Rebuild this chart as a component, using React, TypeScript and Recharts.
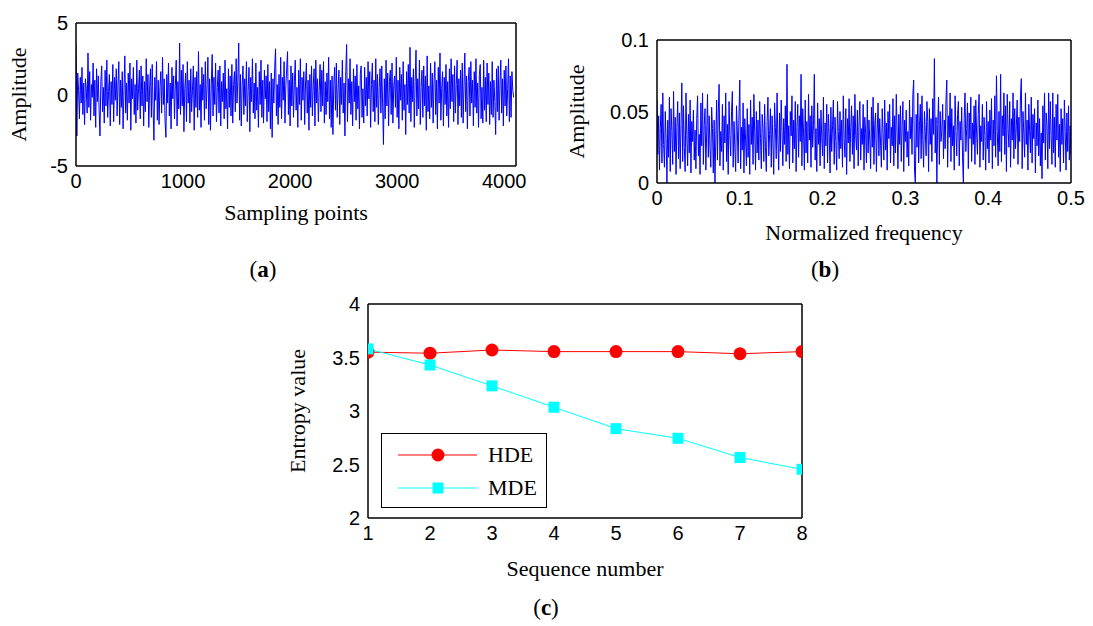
import React from 'react';
import { LineChart, Line, XAxis, YAxis, Label, Legend } from 'recharts';

const SERIF = '"Liberation Serif", "Times New Roman", serif';
const SANS = '"Liberation Sans", Arial, sans-serif';

// (a) time-domain signal, one reading every 8 samples
const signalAmplitude = [
  3.5, -2.9, 1.5, 0.3, -1.7, 1.2, -0.6, 1.9, -1.4, 0.8, -2.1, 1.1, 0.4, -1.3, 2.9, -0.9,
  1.6, -1.8, 0.7, -0.2, 2.2, -1.5, 1.0, -2.3, 1.8, -0.5, 1.3, -1.1, -2.9, 0.9, 2.0, -1.2,
  0.5, -2.0, 1.7, -0.8, 2.4, -1.6, 0.2, 1.4, -2.2, 0.9, -0.7, 2.1, -1.9, 1.2, -0.4, 1.8,
  -1.5, 0.6, 2.3, -2.1, 1.0, -0.9, 1.6, -2.4, 0.3, 2.7, -1.3, 0.8, -1.8, 1.5, -0.6, 2.2,
  -2.5, 1.1, -0.3, 1.9, -1.4, 0.7, -2.0, 2.4, -1.1, 0.4, 1.7, -1.7, 2.0, -0.8, 1.3, -2.2,
  0.9, -1.2, 2.5, -0.5, 1.4, -2.3, 0.6, 1.8, -1.6, 2.1, -0.9, -3.2, 1.2, -0.4, 2.3, -1.8,
  1.0, -2.1, 0.5, 1.6, -1.3, 2.6, -0.7, 1.1, -1.9, -3.0, 1.4, -0.6, 2.2, -1.5, 0.8, -2.4,
  1.9, -0.3, 1.3, -1.7, 0.6, 2.4, -2.2, 0.9, -1.0, 3.6, -1.4, 1.7, -0.8, 2.1, -2.6, 0.4,
  1.5, -1.9, 2.3, -0.6, 1.0, -2.0, 1.8, -1.2, 0.3, 2.0, -2.5, 1.2, -0.9, 1.6, -1.6, 3.0,
  -1.1, 0.7, -2.3, 1.9, -0.4, 1.4, -1.8, 2.3, -1.0, 0.6, 2.6, -2.1, 1.1, -2.5, 0.8, 2.8,
  -1.5, 1.2, -0.7, 2.2, -1.9, 0.5, 1.7, -1.3, 2.0, -2.2, 0.9, -0.5, 1.5, -1.7, 2.4, -1.0,
  0.4, -2.4, 1.8, -0.9, 1.3, -1.5, 2.1, -2.0, 0.7, 1.6, -1.2, 2.5, -0.6, 1.0, 3.6, -1.8,
  1.4, -2.2, 0.6, 2.0, -1.4, 1.1, -0.8, 2.3, -1.9, 0.3, 1.9, -2.6, 1.2, -0.5, 2.5, -1.3,
  0.8, -1.7, 2.2, -1.1, 0.5, -2.3, 1.6, -0.7, 2.4, -1.6, 1.0, -2.0, 1.7, -0.3, 1.3, -1.9,
  2.1, -1.2, 0.9, -2.4, 1.5, -3.0, 1.1, -0.6, 1.9, 3.2, -1.5, 0.7, -2.1, 1.4, -0.9, 2.6,
  -1.7, 1.2, -0.4, 2.3, -2.0, 0.6, 1.8, 3.0, -1.4, 1.0, -2.2, 2.0, -0.8, 1.5, -1.6, 0.9,
  2.4, -1.1, 0.5, -2.3, 1.7, -0.7, 2.5, -1.8, 1.2, -0.4, 1.6, -2.1, 0.8, 2.2, -1.3, 1.0,
  -2.5, 1.4, -0.9, 2.0, -1.5, 0.6, 1.8, -2.2, 2.4, -0.6, 1.1, -1.9, 0.3, 2.1, -1.2, 1.7,
  -0.8, 2.3, -2.0, 0.9, -1.4, 1.5, -0.5, 2.6, -1.7, 1.0, -2.3, 1.3, -2.8, 0.7, 1.9, -1.1,
  2.2, -1.6, 0.4, 1.7, -2.1, 1.2, -0.7, 2.4, -1.3, 0.8, -2.9, 1.6, 3.5, -1.9, 1.1, -0.6,
  2.5, -1.4, 0.9, -2.2, 1.8, -0.5, 1.3, -1.8, 2.1, -1.0, 0.6, -2.4, 1.5, 2.0, -1.6, 0.4,
  -2.0, 1.9, -0.8, 1.2, -1.5, 2.3, -0.3, 1.6, -2.3, 0.7, 2.2, -1.2, 1.0, -1.9, 2.5, -0.9,
  1.4, -2.1, 0.5, 1.8, -1.3, 2.0, -0.6, -3.5, 1.1, -1.7, 2.4, -0.8, 1.5, -2.2, 0.9, 1.7,
  -1.4, 2.2, -2.0, 0.6, 1.3, -0.9, 2.6, -1.6, 1.0, -2.4, 1.9, -0.4, 1.4, -1.8, 2.3, -1.1,
  0.7, -2.8, 1.6, -0.7, 2.1, -1.3, 3.3, -1.9, 1.2, -0.5, 1.8, -2.3, 0.9, 3.1, -1.5, 1.1,
  -1.0, 2.4, -2.1, 0.5, 1.7, -1.6, 2.0, -0.8, 1.3, -2.5, 2.7, -1.2, 0.6, -1.7, 2.2, -0.9,
  1.5, -2.0, 0.8, 2.3, -1.4, 1.0, -2.4, 1.9, -0.6, 2.9, -1.8, 0.4, 1.6, -2.2, 1.2, -0.7,
  2.1, -1.5, 0.9, -2.3, 1.8, -1.0, 2.5, -0.5, 1.4, -1.9, 2.0, -1.3, 0.7, 2.4, -2.1, 1.1,
  -0.8, 1.7, -1.6, 2.2, -2.0, 0.6, 2.9, -1.2, 1.3, -2.4, 0.9, 1.9, -1.5, 2.3, -0.6, 1.0,
  -2.2, 1.6, -0.9, 2.5, -1.3, 0.8, -2.3, 1.4, 2.1, -1.7, 0.5, -2.0, 2.4, -1.1, 1.2, -1.9,
  2.2, -0.7, 1.5, -2.1, 0.9, -1.4, 2.3, -1.6, 1.0, -0.5, -2.8, 1.8, -1.2, 2.0, -1.8, 0.6,
  2.4, -1.3, 1.1, -2.2, 1.7, -0.8, 2.0, -1.5, 0.4, 2.5, -1.9, 1.3, -1.6, 1.6, 0.3, -0.2,
];
const sampleStep = 8;

// (b) amplitude spectrum, one reading every 0.001 of normalized frequency
const spectrumAmplitude = [
  0.058, 0.020, 0.047, 0.009, 0.038, 0.055, 0.014, 0.063, 0.027, 0.011, 0.050, 0.031, 0.000, 0.044, 0.018, 0.060,
  0.008, 0.052, 0.036, 0.013, 0.064, 0.022, 0.046, 0.006, 0.039, 0.057, 0.017, 0.049, 0.010, 0.041, 0.070, 0.015,
  0.054, 0.025, 0.008, 0.063, 0.033, 0.012, 0.048, 0.021, 0.058, 0.007, 0.043, 0.029, 0.051, 0.016, 0.037, 0.010,
  0.045, 0.061, 0.019, 0.034, 0.006, 0.056, 0.026, 0.063, 0.013, 0.040, 0.052, 0.009, 0.035, 0.062, 0.018, 0.047,
  0.024, 0.011, 0.053, 0.038, 0.007, 0.044, 0.000, 0.030, 0.058, 0.016, 0.049, 0.069, 0.012, 0.036, 0.022, 0.055,
  0.009, 0.047, 0.028, 0.063, 0.015, 0.041, 0.006, 0.057, 0.033, 0.019, 0.050, 0.064, 0.011, 0.043, 0.025, 0.008,
  0.054, 0.037, 0.014, 0.048, 0.072, 0.010, 0.039, 0.023, 0.056, 0.007, 0.045, 0.030, 0.012, 0.052, 0.018, 0.041,
  0.006, 0.058, 0.027, 0.046, 0.013, 0.062, 0.035, 0.009, 0.050, 0.021, 0.044, 0.016, 0.057, 0.031, 0.010, 0.048,
  0.038, 0.015, 0.055, 0.025, 0.008, 0.043, 0.060, 0.019, 0.034, 0.052, 0.011, 0.047, 0.028, 0.006, 0.056, 0.039,
  0.017, 0.063, 0.030, 0.009, 0.049, 0.022, 0.058, 0.036, 0.012, 0.045, 0.027, 0.054, 0.015, 0.083, 0.020, 0.040,
  0.010, 0.050, 0.033, 0.061, 0.014, 0.044, 0.024, 0.057, 0.008, 0.039, 0.055, 0.018, 0.047, 0.029, 0.076, 0.012,
  0.052, 0.035, 0.009, 0.058, 0.021, 0.043, 0.014, 0.062, 0.030, 0.047, 0.011, 0.054, 0.025, 0.040, 0.076, 0.016,
  0.038, 0.008, 0.056, 0.027, 0.045, 0.012, 0.051, 0.032, 0.019, 0.060, 0.010, 0.042, 0.026, 0.055, 0.014, 0.048,
  0.034, 0.007, 0.053, 0.022, 0.040, 0.058, 0.013, 0.046, 0.029, 0.009, 0.057, 0.036, 0.017, 0.050, 0.024, 0.044,
  0.011, 0.061, 0.031, 0.018, 0.052, 0.006, 0.045, 0.028, 0.059, 0.015, 0.039, 0.054, 0.020, 0.047, 0.010, 0.062,
  0.033, 0.023, 0.051, 0.012, 0.043, 0.057, 0.016, 0.038, 0.027, 0.055, 0.009, 0.046, 0.035, 0.014, 0.058, 0.021,
  0.044, 0.030, 0.010, 0.053, 0.025, 0.060, 0.013, 0.041, 0.049, 0.008, 0.037, 0.056, 0.019, 0.045, 0.028, 0.011,
  0.052, 0.034, 0.016, 0.058, 0.023, 0.042, 0.009, 0.050, 0.031, 0.055, 0.014, 0.039, 0.026, 0.059, 0.012, 0.047,
  0.021, 0.062, 0.035, 0.010, 0.048, 0.027, 0.054, 0.015, 0.040, 0.057, 0.008, 0.044, 0.029, 0.051, 0.018, 0.036,
  0.012, 0.058, 0.031, 0.046, 0.020, 0.062, 0.072, 0.009, 0.000, 0.048, 0.025, 0.063, 0.014, 0.040, 0.055, 0.017,
  0.061, 0.030, 0.011, 0.050, 0.036, 0.019, 0.057, 0.043, 0.008, 0.052, 0.027, 0.045, 0.015, 0.059, 0.034, 0.087,
  0.021, 0.046, 0.000, 0.041, 0.060, 0.013, 0.050, 0.029, 0.037, 0.055, 0.017, 0.044, 0.024, 0.058, 0.072, 0.011,
  0.047, 0.032, 0.063, 0.015, 0.052, 0.026, 0.040, 0.009, 0.061, 0.036, 0.019, 0.048, 0.057, 0.012, 0.043, 0.030,
  0.053, 0.018, 0.000, 0.045, 0.063, 0.022, 0.038, 0.056, 0.010, 0.049, 0.031, 0.060, 0.015, 0.042, 0.027, 0.054,
  0.013, 0.058, 0.035, 0.020, 0.048, 0.062, 0.011, 0.040, 0.029, 0.055, 0.016, 0.046, 0.033, 0.009, 0.057, 0.024,
  0.043, 0.014, 0.051, 0.030, 0.059, 0.010, 0.044, 0.026, 0.061, 0.018, 0.075, 0.036, 0.012, 0.050, 0.022, 0.076,
  0.015, 0.047, 0.033, 0.063, 0.020, 0.054, 0.008, 0.062, 0.038, 0.025, 0.057, 0.011, 0.045, 0.030, 0.063, 0.017,
  0.052, 0.024, 0.040, 0.058, 0.013, 0.046, 0.029, 0.061, 0.073, 0.010, 0.050, 0.035, 0.018, 0.063, 0.027, 0.044,
  0.009, 0.055, 0.037, 0.021, 0.060, 0.014, 0.048, 0.031, 0.052, 0.007, 0.042, 0.026, 0.058, 0.019, 0.045, 0.012,
  0.035, 0.003, 0.054, 0.028, 0.063, 0.016, 0.049, 0.040, 0.010, 0.063, 0.024, 0.057, 0.033, 0.013, 0.063, 0.021,
  0.046, 0.011, 0.055, 0.030, 0.062, 0.018, 0.041, 0.008, 0.052, 0.027, 0.045, 0.014, 0.058, 0.036, 0.009, 0.049,
  0.022, 0.054, 0.016, 0.040, 0.020,
];
const freqStep = 0.001;

// (c) entropy vs sequence number
const sequenceNumbers = [1, 2, 3, 4, 5, 6, 7, 8];
const hdeValues = [3.55, 3.54, 3.57, 3.555, 3.555, 3.555, 3.535, 3.555];
const mdeValues = [3.58, 3.43, 3.235, 3.035, 2.835, 2.745, 2.565, 2.455];

const signalTicksX = [0, 1000, 2000, 3000, 4000];
const signalTicksY = [-5, 0, 5];
const freqTicksX = [0, 0.1, 0.2, 0.3, 0.4, 0.5];
const freqTicksY = [0, 0.05, 0.1];
const entropyTicksY = [2, 2.5, 3, 3.5, 4];

const signalData = signalAmplitude.map((v, i) => ({ x: i * sampleStep, y: v }));
const spectrumData = spectrumAmplitude.map((v, i) => ({ x: i * freqStep, y: v }));
const entropyData = sequenceNumbers.map((n, i) => ({ n, HDE: hdeValues[i], MDE: mdeValues[i] }));

const tickStyle = { fill: '#000', fontSize: 20, fontFamily: SANS };
const titleStyle = { fill: '#000', fontSize: 22, fontFamily: SERIF };
const frameLine = { stroke: '#000', strokeWidth: 1.5 };

// MATLAB-ish box: labelled bottom/left axes plus inward ticks on all four sides
const boxAxes = (
  xKey: string,
  xDomain: number[],
  xTicks: number[],
  yDomain: number[],
  yTicks: number[],
  xHeight: number,
  yWidth: number,
  xTitle: string,
  xTitleOffset: number,
  yTitle: string,
  yTitleOffset: number,
) => [
  <XAxis key="xb" xAxisId="x" dataKey={xKey} type="number" domain={xDomain} ticks={xTicks} interval={0}
    allowDataOverflow tickLine={false} axisLine={frameLine} tick={tickStyle} height={xHeight}>
    <Label value={xTitle} position="insideBottom" offset={xTitleOffset} style={titleStyle} />
  </XAxis>,
  <XAxis key="xbi" xAxisId="xin" type="number" domain={xDomain} ticks={xTicks} interval={0}
    allowDataOverflow mirror axisLine={false} tick={false} tickSize={5} tickLine={{ stroke: '#000' }} />,
  <XAxis key="xt" xAxisId="xtop" orientation="top" type="number" domain={xDomain} ticks={xTicks} interval={0}
    allowDataOverflow mirror axisLine={frameLine} tick={false} tickSize={5} tickLine={{ stroke: '#000' }} />,
  <YAxis key="yl" yAxisId="y" type="number" domain={yDomain} ticks={yTicks} interval={0}
    allowDataOverflow tickLine={false} axisLine={frameLine} tick={tickStyle} width={yWidth}>
    <Label value={yTitle} angle={-90} position="insideLeft" offset={yTitleOffset}
      style={{ ...titleStyle, textAnchor: 'middle' }} />
  </YAxis>,
  <YAxis key="yli" yAxisId="yin" type="number" domain={yDomain} ticks={yTicks} interval={0}
    allowDataOverflow mirror axisLine={false} tick={false} tickSize={5} tickLine={{ stroke: '#000' }} />,
  <YAxis key="yr" yAxisId="yright" orientation="right" type="number" domain={yDomain} ticks={yTicks} interval={0}
    allowDataOverflow mirror axisLine={frameLine} tick={false} tickSize={5} tickLine={{ stroke: '#000' }} />,
];

const SquareDot = (props: any) => {
  const { cx, cy, index } = props;
  if (cx == null || cy == null) return null;
  return <rect key={`sq-${index}`} x={cx - 5.5} y={cy - 5.5} width={11} height={11} fill="#00ffff" />;
};

const EntropyLegend = () => (
  <div style={{
    width: 166, height: 75, boxSizing: 'border-box', border: '1.5px solid #000', background: '#fff',
    fontFamily: SERIF, fontSize: 22, color: '#000', position: 'relative',
  }}>
    <svg width={100} height={75} style={{ position: 'absolute', left: 0, top: 0 }}>
      <line x1={16} x2={95} y1={21} y2={21} stroke="#ff0000" strokeWidth={1} />
      <circle cx={56} cy={21} r={6.5} fill="#ff0000" />
      <line x1={16} x2={95} y1={54} y2={54} stroke="#00ffff" strokeWidth={1} />
      <rect x={50.5} y={48.5} width={11} height={11} fill="#00ffff" />
    </svg>
    <div style={{ position: 'absolute', left: 106, top: 8, lineHeight: '26px' }}>HDE</div>
    <div style={{ position: 'absolute', left: 106, top: 41, lineHeight: '26px' }}>MDE</div>
  </div>
);

const SubLabel = ({ letter, cx, cy }: { letter: string; cx: number; cy: number }) => (
  <div style={{
    position: 'absolute', left: cx - 50, width: 100, top: cy - 12, lineHeight: '24px',
    textAlign: 'center', fontFamily: SERIF, fontSize: 23, color: '#000',
  }}>
    (<b>{letter}</b>)
  </div>
);

export default function App() {
  return (
    <div style={{ position: 'absolute', left: 0, top: 0, width: 1093, height: 626, background: '#fff', overflow: 'hidden' }}>
      <div style={{ position: 'absolute', left: 0, top: 0 }}>
        <LineChart width={540} height={240} data={signalData} margin={{ top: 23, right: 24, bottom: 0, left: 0 }}>
          {boxAxes('x', [0, 4110], signalTicksX, [-5, 5], signalTicksY, 74, 76, 'Sampling points', 20, 'Amplitude', 18)}
          <Line xAxisId="x" yAxisId="y" dataKey="y" stroke="#0000ff" strokeWidth={1} dot={false}
            activeDot={false} isAnimationActive={false} />
        </LineChart>
      </div>

      <div style={{ position: 'absolute', left: 540, top: 0 }}>
        <LineChart width={553} height={260} data={spectrumData} margin={{ top: 40, right: 22, bottom: 0, left: 0 }}>
          {boxAxes('x', [0, 0.5], freqTicksX, [0, 0.1], freqTicksY, 77, 117, 'Normalized frequency', 20, 'Amplitude', 36)}
          <Line xAxisId="x" yAxisId="y" dataKey="y" stroke="#0000ff" strokeWidth={1} dot={false}
            activeDot={false} isAnimationActive={false} />
        </LineChart>
      </div>

      <div style={{ position: 'absolute', left: 260, top: 260 }}>
        <LineChart width={570} height={330} data={entropyData} margin={{ top: 44, right: 28, bottom: 0, left: 0 }}>
          {boxAxes('n', [1, 8], sequenceNumbers, [2, 4], entropyTicksY, 72, 108, 'Sequence number', 14, 'Entropy value', 37)}
          <Line xAxisId="x" yAxisId="y" dataKey="HDE" stroke="#ff0000" strokeWidth={1}
            dot={{ r: 6.5, fill: '#ff0000', stroke: '#ff0000', strokeWidth: 0 }}
            activeDot={false} isAnimationActive={false} />
          <Line xAxisId="x" yAxisId="y" dataKey="MDE" stroke="#00ffff" strokeWidth={1}
            dot={SquareDot} activeDot={false} isAnimationActive={false} />
          <Legend layout="vertical" align="center" verticalAlign="middle" content={EntropyLegend}
            wrapperStyle={{ left: 121, top: 173, width: 166, height: 75 }} />
        </LineChart>
      </div>

      <SubLabel letter="a" cx={263} cy={270} />
      <SubLabel letter="b" cx={825} cy={270} />
      <SubLabel letter="c" cx={546} cy={608} />
    </div>
  );
}
